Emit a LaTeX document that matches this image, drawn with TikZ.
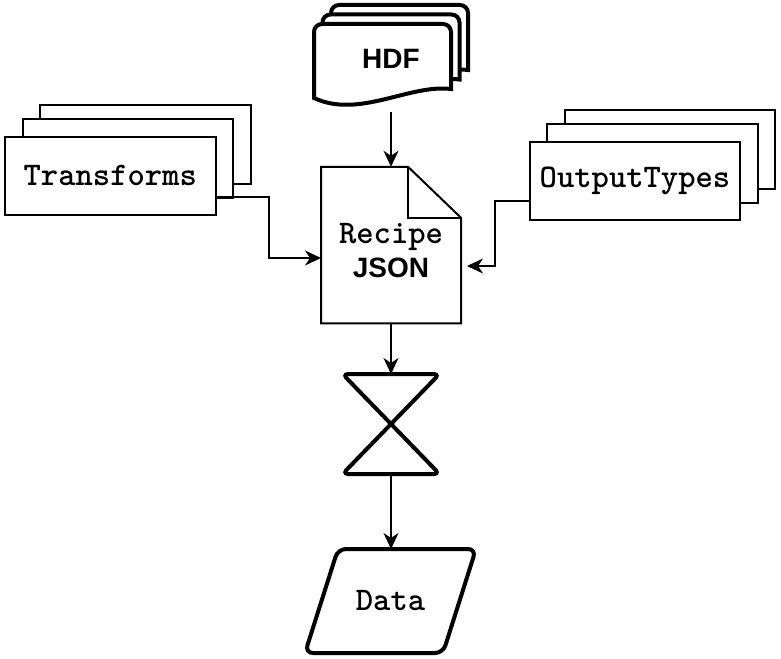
\documentclass[tikz,border=0pt]{standalone}
\usepackage{fontspec}
\setmainfont{Liberation Sans}
\newfontfamily\codefont{lmmonolt10-bold.otf}
\usetikzlibrary{arrows.meta}
\begin{document}
\begin{tikzpicture}[x=1pt,y=-1pt,
  holder/.style={inner sep=0pt,outer sep=0pt},
  stackbox/.style={draw,fill=white,line width=2pt,minimum width=210.5pt,minimum height=78.5pt},
  code/.style={font=\fontsize{33}{36}\selectfont\codefont},
  flow/.style={draw,line width=2pt,-{Stealth[length=16pt,width=15pt,inset=5pt]}}]
\useasboundingbox (0,0) rectangle (781,658);

% transforms stack
\node[stackbox] (trans3) at (145.25,144.25) {};
\node[stackbox] (trans2) at (127.75,158.25) {};
\node[stackbox,code] (trans) at (110.25,175.75) {Transforms};

% output types stack
\node[stackbox] (otypes3) at (670,149.25) {};
\node[stackbox] (otypes2) at (652.5,163.25) {};
\node[stackbox,code] (otypes) at (635,180.75) {OutputTypes};

% hdf sheets
\foreach \dx/\dy in {17/-19,8.5/-9.5,0/0}
  \path[draw,fill=white,line width=4pt,shift={(314+\dx,24+\dy)}]
    (0,74) [rounded corners=8pt] -- (0,0) -- (137,0) [sharp corners] -- (137,65)
    .. controls (95,60) and (45,95) .. (0,74) -- cycle;
\node[holder,font=\fontsize{28}{34}\selectfont\bfseries,minimum width=155pt,minimum height=107pt] (hdf) at (391,58.5) {HDF};

% recipe
\node[holder,minimum width=140pt,minimum height=156.5pt] (recipe) at (391,245) {};
\path[draw,fill=white,line width=2pt] (recipe.south west) -- (recipe.north west)
  -- ([xshift=-53pt]recipe.north east) -- ([yshift=-51pt]recipe.north east)
  -- (recipe.south east) -- cycle;
\path[draw,line width=2pt] ([xshift=-53pt]recipe.north east) |- ([yshift=-51pt]recipe.north east);
\node[align=center,font=\fontsize{28}{34}\selectfont\bfseries] (recipetext) at (391,251)
  {{\codefont\fontsize{33}{34}\selectfont Recipe}\\JSON};

% collate
\node[holder,minimum width=97pt,minimum height=100pt] (collate) at (391,424) {};
\path[draw,line width=4pt,rounded corners=5pt,line join=round] (collate.north west) -- (collate.north east)
  -- (collate.south west) -- (collate.south east) -- cycle;

% data
\node[holder,code,minimum width=171pt,minimum height=104pt] (data) at (390.5,601) {Data};
\path[draw,line width=4pt,rounded corners=8pt] (data.south west) -- ([xshift=33pt]data.north west)
  -- (data.north east) -- ([xshift=-33pt]data.south east) -- cycle;

\path[flow] (hdf.south) -- (recipe.north);
\path[flow] (recipe.south) -- (collate.north);
\path[flow] (collate.south) -- (collate.south |- data.north);
\path[flow] ([yshift=-21pt]trans.east) -- ++(52.5,0) |- ([yshift=-13pt]recipe.west);
\path[flow,shorten >=6pt] ([yshift=-20pt]otypes.west) -- ++(-34,0) |- ([yshift=-21pt]recipe.east);
\end{tikzpicture}
\end{document}
